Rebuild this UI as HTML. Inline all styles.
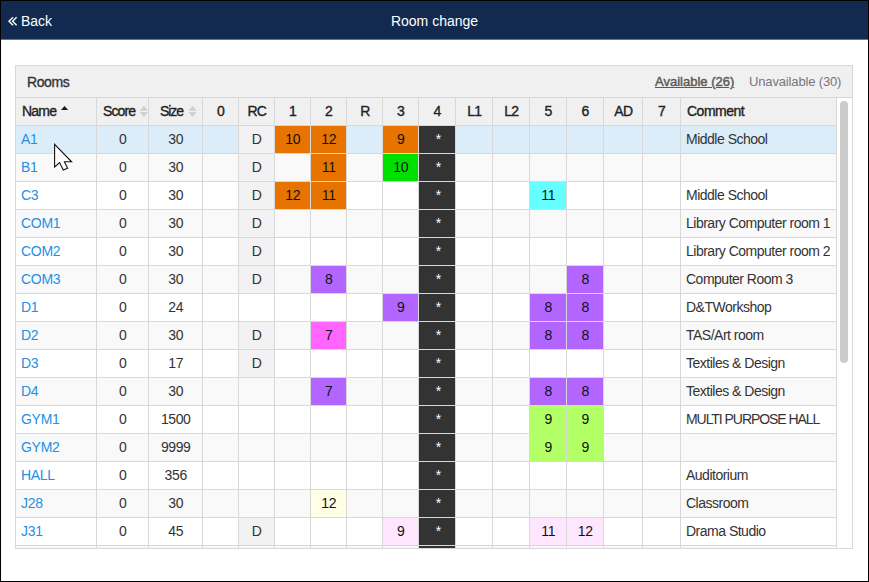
<!DOCTYPE html><html><head><meta charset="utf-8"><style>
*{margin:0;padding:0;box-sizing:border-box}
html,body{width:869px;height:582px;overflow:hidden;background:#fff;font-family:"Liberation Sans",sans-serif;font-size:13px;color:#333}
.a{position:absolute}
.t{position:absolute;white-space:nowrap;line-height:27px;height:27px;text-align:center}
.l{color:#2490e6;font-size:14px;letter-spacing:-0.3px}
.hd{color:#222;-webkit-text-stroke:0.35px #222;font-size:14px}
.n{font-size:14px;letter-spacing:-0.4px;text-indent:0.4px}
</style></head><body>
<div class="a" style="left:0;top:0;width:869px;height:582px;border:1px solid #000"></div>
<div class="a" style="left:1px;top:1px;width:867px;height:38px;background:#122a50;box-shadow:0 1px 0 rgba(0,0,0,.55)"></div>
<svg class="a" style="left:7px;top:16px" width="12" height="11"><path d="M6 1.2 L2 5.2 L6 9.2 M9.6 1.2 L5.6 5.2 L9.6 9.2" fill="none" stroke="#fff" stroke-width="1.4"/></svg>
<div class="a" style="left:21px;top:11px;color:#fff;font-size:14px;line-height:20px">Back</div>
<div class="a" style="left:0;top:11px;width:869px;text-align:center;color:#fff;font-size:14px;line-height:20px">Room change</div>

<div class="a" style="left:15px;top:65px;width:838px;height:484px;border:1px solid #d8d8d8;background:#fff"></div>
<div class="a" style="left:16px;top:66px;width:836px;height:32px;background:#f0f0f0;border-bottom:1px solid #d8d8d8"></div>
<div class="a" style="left:27px;top:72px;color:#333;-webkit-text-stroke:0.35px #333;line-height:20px;font-size:14px;letter-spacing:-0.4px">Rooms</div>
<div class="a" style="left:655px;top:72px;color:#5a5a5a;-webkit-text-stroke:0.45px #5a5a5a;line-height:20px;text-decoration:underline">Available (26)</div>
<div class="a" style="left:749px;top:72px;color:#777;line-height:20px;letter-spacing:-0.15px">Unavailable (30)</div>
<div class="a" style="left:16px;top:98px;width:820px;height:27px;background:#f0f0f0"></div>
<div class="a" style="left:16px;top:126px;width:820px;height:27px;background:#dcedfa"></div>
<div class="a" style="left:16px;top:154px;width:820px;height:27px;background:#f9f9f9"></div>
<div class="a" style="left:16px;top:182px;width:820px;height:27px;background:#ffffff"></div>
<div class="a" style="left:16px;top:210px;width:820px;height:27px;background:#f9f9f9"></div>
<div class="a" style="left:16px;top:238px;width:820px;height:27px;background:#ffffff"></div>
<div class="a" style="left:16px;top:266px;width:820px;height:27px;background:#f9f9f9"></div>
<div class="a" style="left:16px;top:294px;width:820px;height:27px;background:#ffffff"></div>
<div class="a" style="left:16px;top:322px;width:820px;height:27px;background:#f9f9f9"></div>
<div class="a" style="left:16px;top:350px;width:820px;height:27px;background:#ffffff"></div>
<div class="a" style="left:16px;top:378px;width:820px;height:27px;background:#f9f9f9"></div>
<div class="a" style="left:16px;top:406px;width:820px;height:27px;background:#ffffff"></div>
<div class="a" style="left:16px;top:434px;width:820px;height:27px;background:#f9f9f9"></div>
<div class="a" style="left:16px;top:462px;width:820px;height:27px;background:#ffffff"></div>
<div class="a" style="left:16px;top:490px;width:820px;height:27px;background:#f9f9f9"></div>
<div class="a" style="left:16px;top:518px;width:820px;height:27px;background:#ffffff"></div>
<div class="a" style="left:16px;top:546px;width:820px;height:2px;background:#f9f9f9"></div>
<div class="a" style="left:239px;top:126px;width:35px;height:27px;background:#f2f2f2"></div>
<div class="a" style="left:275px;top:126px;width:35px;height:27px;background:#e77400"></div>
<div class="a" style="left:311px;top:126px;width:35px;height:27px;background:#e77400"></div>
<div class="a" style="left:383px;top:126px;width:35px;height:27px;background:#e77400"></div>
<div class="a" style="left:419px;top:126px;width:36px;height:27px;background:#333"></div>
<div class="a" style="left:239px;top:154px;width:35px;height:27px;background:#f2f2f2"></div>
<div class="a" style="left:311px;top:154px;width:35px;height:27px;background:#e77400"></div>
<div class="a" style="left:383px;top:154px;width:35px;height:27px;background:#00e000"></div>
<div class="a" style="left:419px;top:154px;width:36px;height:27px;background:#333"></div>
<div class="a" style="left:239px;top:182px;width:35px;height:27px;background:#f2f2f2"></div>
<div class="a" style="left:275px;top:182px;width:35px;height:27px;background:#e77400"></div>
<div class="a" style="left:311px;top:182px;width:35px;height:27px;background:#e77400"></div>
<div class="a" style="left:530px;top:182px;width:36px;height:27px;background:#66ffff"></div>
<div class="a" style="left:419px;top:182px;width:36px;height:27px;background:#333"></div>
<div class="a" style="left:239px;top:210px;width:35px;height:27px;background:#f2f2f2"></div>
<div class="a" style="left:419px;top:210px;width:36px;height:27px;background:#333"></div>
<div class="a" style="left:239px;top:238px;width:35px;height:27px;background:#f2f2f2"></div>
<div class="a" style="left:419px;top:238px;width:36px;height:27px;background:#333"></div>
<div class="a" style="left:239px;top:266px;width:35px;height:27px;background:#f2f2f2"></div>
<div class="a" style="left:311px;top:266px;width:35px;height:27px;background:#b266ff"></div>
<div class="a" style="left:567px;top:266px;width:36px;height:27px;background:#b266ff"></div>
<div class="a" style="left:419px;top:266px;width:36px;height:27px;background:#333"></div>
<div class="a" style="left:383px;top:294px;width:35px;height:27px;background:#b266ff"></div>
<div class="a" style="left:530px;top:294px;width:36px;height:27px;background:#b266ff"></div>
<div class="a" style="left:567px;top:294px;width:36px;height:27px;background:#b266ff"></div>
<div class="a" style="left:419px;top:294px;width:36px;height:27px;background:#333"></div>
<div class="a" style="left:239px;top:322px;width:35px;height:27px;background:#f2f2f2"></div>
<div class="a" style="left:311px;top:322px;width:35px;height:27px;background:#ff66ff"></div>
<div class="a" style="left:530px;top:322px;width:36px;height:27px;background:#b266ff"></div>
<div class="a" style="left:567px;top:322px;width:36px;height:27px;background:#b266ff"></div>
<div class="a" style="left:419px;top:322px;width:36px;height:27px;background:#333"></div>
<div class="a" style="left:239px;top:350px;width:35px;height:27px;background:#f2f2f2"></div>
<div class="a" style="left:419px;top:350px;width:36px;height:27px;background:#333"></div>
<div class="a" style="left:311px;top:378px;width:35px;height:27px;background:#b266ff"></div>
<div class="a" style="left:530px;top:378px;width:36px;height:27px;background:#b266ff"></div>
<div class="a" style="left:567px;top:378px;width:36px;height:27px;background:#b266ff"></div>
<div class="a" style="left:419px;top:378px;width:36px;height:27px;background:#333"></div>
<div class="a" style="left:530px;top:406px;width:36px;height:27px;background:#b3ff66"></div>
<div class="a" style="left:567px;top:406px;width:36px;height:27px;background:#b3ff66"></div>
<div class="a" style="left:419px;top:406px;width:36px;height:27px;background:#333"></div>
<div class="a" style="left:530px;top:434px;width:36px;height:27px;background:#b3ff66"></div>
<div class="a" style="left:567px;top:434px;width:36px;height:27px;background:#b3ff66"></div>
<div class="a" style="left:419px;top:434px;width:36px;height:27px;background:#333"></div>
<div class="a" style="left:419px;top:462px;width:36px;height:27px;background:#333"></div>
<div class="a" style="left:311px;top:490px;width:35px;height:27px;background:#ffffe6"></div>
<div class="a" style="left:419px;top:490px;width:36px;height:27px;background:#333"></div>
<div class="a" style="left:239px;top:518px;width:35px;height:27px;background:#f2f2f2"></div>
<div class="a" style="left:383px;top:518px;width:35px;height:27px;background:#ffe6ff"></div>
<div class="a" style="left:530px;top:518px;width:36px;height:27px;background:#ffe6ff"></div>
<div class="a" style="left:567px;top:518px;width:36px;height:27px;background:#ffe6ff"></div>
<div class="a" style="left:419px;top:518px;width:36px;height:27px;background:#333"></div>
<div class="a" style="left:419px;top:546px;width:36px;height:2px;background:#333"></div>
<div class="a" style="left:16px;top:125px;width:820px;height:1px;background:#d8d8d8"></div>
<div class="a" style="left:16px;top:153px;width:820px;height:1px;background:#d8d8d8"></div>
<div class="a" style="left:16px;top:181px;width:820px;height:1px;background:#d8d8d8"></div>
<div class="a" style="left:16px;top:209px;width:820px;height:1px;background:#d8d8d8"></div>
<div class="a" style="left:16px;top:237px;width:820px;height:1px;background:#d8d8d8"></div>
<div class="a" style="left:16px;top:265px;width:820px;height:1px;background:#d8d8d8"></div>
<div class="a" style="left:16px;top:293px;width:820px;height:1px;background:#d8d8d8"></div>
<div class="a" style="left:16px;top:321px;width:820px;height:1px;background:#d8d8d8"></div>
<div class="a" style="left:16px;top:349px;width:820px;height:1px;background:#d8d8d8"></div>
<div class="a" style="left:16px;top:377px;width:820px;height:1px;background:#d8d8d8"></div>
<div class="a" style="left:16px;top:405px;width:820px;height:1px;background:#d8d8d8"></div>
<div class="a" style="left:16px;top:433px;width:820px;height:1px;background:#d8d8d8"></div>
<div class="a" style="left:16px;top:461px;width:820px;height:1px;background:#d8d8d8"></div>
<div class="a" style="left:16px;top:489px;width:820px;height:1px;background:#d8d8d8"></div>
<div class="a" style="left:16px;top:517px;width:820px;height:1px;background:#d8d8d8"></div>
<div class="a" style="left:16px;top:545px;width:820px;height:1px;background:#d8d8d8"></div>
<div class="a" style="left:96px;top:98px;width:1px;height:450px;background:#d8d8d8"></div>
<div class="a" style="left:148px;top:98px;width:1px;height:450px;background:#d8d8d8"></div>
<div class="a" style="left:202px;top:98px;width:1px;height:450px;background:#d8d8d8"></div>
<div class="a" style="left:238px;top:98px;width:1px;height:450px;background:#d8d8d8"></div>
<div class="a" style="left:274px;top:98px;width:1px;height:450px;background:#d8d8d8"></div>
<div class="a" style="left:310px;top:98px;width:1px;height:450px;background:#d8d8d8"></div>
<div class="a" style="left:346px;top:98px;width:1px;height:450px;background:#d8d8d8"></div>
<div class="a" style="left:382px;top:98px;width:1px;height:450px;background:#d8d8d8"></div>
<div class="a" style="left:418px;top:98px;width:1px;height:450px;background:#d8d8d8"></div>
<div class="a" style="left:455px;top:98px;width:1px;height:450px;background:#d8d8d8"></div>
<div class="a" style="left:492px;top:98px;width:1px;height:450px;background:#d8d8d8"></div>
<div class="a" style="left:529px;top:98px;width:1px;height:450px;background:#d8d8d8"></div>
<div class="a" style="left:566px;top:98px;width:1px;height:450px;background:#d8d8d8"></div>
<div class="a" style="left:603px;top:98px;width:1px;height:450px;background:#d8d8d8"></div>
<div class="a" style="left:642px;top:98px;width:1px;height:450px;background:#d8d8d8"></div>
<div class="a" style="left:680px;top:98px;width:1px;height:450px;background:#d8d8d8"></div>
<div class="a" style="left:836px;top:98px;width:1px;height:450px;background:#d8d8d8"></div>
<div class="t hd" style="left:22px;top:98px;text-align:left;letter-spacing:-0.8px">Name</div>
<svg class="a" style="left:61px;top:105px" width="9" height="6"><path d="M-0.2 5.1 L3.5 1 L7.2 5.1Z" fill="#1a1a1a"/></svg>
<div class="t hd" style="left:103px;top:98px;text-align:left;letter-spacing:-0.9px">Score</div>
<svg class="a" style="left:139px;top:105px" width="9" height="13"><path d="M0.6 5.7 L4.8 0.7 L9 5.7Z M0.6 6.9 L4.8 11.9 L9 6.9Z" fill="#d0d0d0"/></svg>
<div class="t hd" style="left:160px;top:98px;text-align:left;letter-spacing:-1.1px">Size</div>
<svg class="a" style="left:188px;top:105px" width="10" height="13"><path d="M0.3 5.7 L4.5 0.7 L8.7 5.7Z M0.3 6.9 L4.5 11.9 L8.7 6.9Z" fill="#d0d0d0"/></svg>
<div class="t hd n" style="left:203px;top:98px;width:35px;">0</div>
<div class="t hd" style="left:239px;top:98px;width:35px;letter-spacing:-0.7px;text-indent:0.7px">RC</div>
<div class="t hd n" style="left:275px;top:98px;width:35px;">1</div>
<div class="t hd n" style="left:311px;top:98px;width:35px;">2</div>
<div class="t hd" style="left:347px;top:98px;width:35px;letter-spacing:-0.7px;text-indent:0.7px">R</div>
<div class="t hd n" style="left:383px;top:98px;width:35px;">3</div>
<div class="t hd n" style="left:419px;top:98px;width:36px;">4</div>
<div class="t hd" style="left:456px;top:98px;width:36px;letter-spacing:-0.7px;text-indent:0.7px">L1</div>
<div class="t hd" style="left:493px;top:98px;width:36px;letter-spacing:-0.7px;text-indent:0.7px">L2</div>
<div class="t hd n" style="left:530px;top:98px;width:36px;">5</div>
<div class="t hd n" style="left:567px;top:98px;width:36px;">6</div>
<div class="t hd" style="left:604px;top:98px;width:38px;letter-spacing:-0.7px;text-indent:0.7px">AD</div>
<div class="t hd n" style="left:643px;top:98px;width:37px;">7</div>
<div class="t hd" style="left:687px;top:98px;text-align:left;letter-spacing:-0.5px">Comment</div>
<div class="t l" style="left:21px;top:126px;text-align:left">A1</div>
<div class="t n" style="left:97px;top:126px;width:51px;">0</div>
<div class="t n" style="left:149px;top:126px;width:53px;">30</div>
<div class="t n" style="left:239px;top:126px;width:35px;">D</div>
<div class="t n" style="left:275px;top:126px;width:35px;color:#111">10</div>
<div class="t n" style="left:311px;top:126px;width:35px;color:#111">12</div>
<div class="t n" style="left:383px;top:126px;width:35px;color:#111">9</div>
<div class="t n" style="left:420px;top:126px;width:36px;color:#fff">*</div>
<div class="t" style="left:686px;top:126px;text-align:left;font-size:14px;letter-spacing:-0.5px">Middle School</div>
<div class="t l" style="left:21px;top:154px;text-align:left">B1</div>
<div class="t n" style="left:97px;top:154px;width:51px;">0</div>
<div class="t n" style="left:149px;top:154px;width:53px;">30</div>
<div class="t n" style="left:239px;top:154px;width:35px;">D</div>
<div class="t n" style="left:311px;top:154px;width:35px;color:#111">11</div>
<div class="t n" style="left:383px;top:154px;width:35px;color:#111">10</div>
<div class="t n" style="left:420px;top:154px;width:36px;color:#fff">*</div>
<div class="t l" style="left:21px;top:182px;text-align:left">C3</div>
<div class="t n" style="left:97px;top:182px;width:51px;">0</div>
<div class="t n" style="left:149px;top:182px;width:53px;">30</div>
<div class="t n" style="left:239px;top:182px;width:35px;">D</div>
<div class="t n" style="left:275px;top:182px;width:35px;color:#111">12</div>
<div class="t n" style="left:311px;top:182px;width:35px;color:#111">11</div>
<div class="t n" style="left:530px;top:182px;width:36px;color:#111">11</div>
<div class="t n" style="left:420px;top:182px;width:36px;color:#fff">*</div>
<div class="t" style="left:686px;top:182px;text-align:left;font-size:14px;letter-spacing:-0.5px">Middle School</div>
<div class="t l" style="left:21px;top:210px;text-align:left">COM1</div>
<div class="t n" style="left:97px;top:210px;width:51px;">0</div>
<div class="t n" style="left:149px;top:210px;width:53px;">30</div>
<div class="t n" style="left:239px;top:210px;width:35px;">D</div>
<div class="t n" style="left:420px;top:210px;width:36px;color:#fff">*</div>
<div class="t" style="left:686px;top:210px;text-align:left;font-size:14px;letter-spacing:-0.5px">Library Computer room 1</div>
<div class="t l" style="left:21px;top:238px;text-align:left">COM2</div>
<div class="t n" style="left:97px;top:238px;width:51px;">0</div>
<div class="t n" style="left:149px;top:238px;width:53px;">30</div>
<div class="t n" style="left:239px;top:238px;width:35px;">D</div>
<div class="t n" style="left:420px;top:238px;width:36px;color:#fff">*</div>
<div class="t" style="left:686px;top:238px;text-align:left;font-size:14px;letter-spacing:-0.5px">Library Computer room 2</div>
<div class="t l" style="left:21px;top:266px;text-align:left">COM3</div>
<div class="t n" style="left:97px;top:266px;width:51px;">0</div>
<div class="t n" style="left:149px;top:266px;width:53px;">30</div>
<div class="t n" style="left:239px;top:266px;width:35px;">D</div>
<div class="t n" style="left:311px;top:266px;width:35px;color:#111">8</div>
<div class="t n" style="left:567px;top:266px;width:36px;color:#111">8</div>
<div class="t n" style="left:420px;top:266px;width:36px;color:#fff">*</div>
<div class="t" style="left:686px;top:266px;text-align:left;font-size:14px;letter-spacing:-0.5px">Computer Room 3</div>
<div class="t l" style="left:21px;top:294px;text-align:left">D1</div>
<div class="t n" style="left:97px;top:294px;width:51px;">0</div>
<div class="t n" style="left:149px;top:294px;width:53px;">24</div>
<div class="t n" style="left:383px;top:294px;width:35px;color:#111">9</div>
<div class="t n" style="left:530px;top:294px;width:36px;color:#111">8</div>
<div class="t n" style="left:567px;top:294px;width:36px;color:#111">8</div>
<div class="t n" style="left:420px;top:294px;width:36px;color:#fff">*</div>
<div class="t" style="left:686px;top:294px;text-align:left;font-size:14px;letter-spacing:-0.5px">D&amp;TWorkshop</div>
<div class="t l" style="left:21px;top:322px;text-align:left">D2</div>
<div class="t n" style="left:97px;top:322px;width:51px;">0</div>
<div class="t n" style="left:149px;top:322px;width:53px;">30</div>
<div class="t n" style="left:239px;top:322px;width:35px;">D</div>
<div class="t n" style="left:311px;top:322px;width:35px;color:#111">7</div>
<div class="t n" style="left:530px;top:322px;width:36px;color:#111">8</div>
<div class="t n" style="left:567px;top:322px;width:36px;color:#111">8</div>
<div class="t n" style="left:420px;top:322px;width:36px;color:#fff">*</div>
<div class="t" style="left:686px;top:322px;text-align:left;font-size:14px;letter-spacing:-0.5px">TAS/Art room</div>
<div class="t l" style="left:21px;top:350px;text-align:left">D3</div>
<div class="t n" style="left:97px;top:350px;width:51px;">0</div>
<div class="t n" style="left:149px;top:350px;width:53px;">17</div>
<div class="t n" style="left:239px;top:350px;width:35px;">D</div>
<div class="t n" style="left:420px;top:350px;width:36px;color:#fff">*</div>
<div class="t" style="left:686px;top:350px;text-align:left;font-size:14px;letter-spacing:-0.5px">Textiles &amp; Design</div>
<div class="t l" style="left:21px;top:378px;text-align:left">D4</div>
<div class="t n" style="left:97px;top:378px;width:51px;">0</div>
<div class="t n" style="left:149px;top:378px;width:53px;">30</div>
<div class="t n" style="left:311px;top:378px;width:35px;color:#111">7</div>
<div class="t n" style="left:530px;top:378px;width:36px;color:#111">8</div>
<div class="t n" style="left:567px;top:378px;width:36px;color:#111">8</div>
<div class="t n" style="left:420px;top:378px;width:36px;color:#fff">*</div>
<div class="t" style="left:686px;top:378px;text-align:left;font-size:14px;letter-spacing:-0.5px">Textiles &amp; Design</div>
<div class="t l" style="left:21px;top:406px;text-align:left">GYM1</div>
<div class="t n" style="left:97px;top:406px;width:51px;">0</div>
<div class="t n" style="left:149px;top:406px;width:53px;">1500</div>
<div class="t n" style="left:530px;top:406px;width:36px;color:#111">9</div>
<div class="t n" style="left:567px;top:406px;width:36px;color:#111">9</div>
<div class="t n" style="left:420px;top:406px;width:36px;color:#fff">*</div>
<div class="t" style="left:686px;top:406px;text-align:left;font-size:14px;letter-spacing:-1.05px">MULTI PURPOSE HALL</div>
<div class="t l" style="left:21px;top:434px;text-align:left">GYM2</div>
<div class="t n" style="left:97px;top:434px;width:51px;">0</div>
<div class="t n" style="left:149px;top:434px;width:53px;">9999</div>
<div class="t n" style="left:530px;top:434px;width:36px;color:#111">9</div>
<div class="t n" style="left:567px;top:434px;width:36px;color:#111">9</div>
<div class="t n" style="left:420px;top:434px;width:36px;color:#fff">*</div>
<div class="t l" style="left:21px;top:462px;text-align:left">HALL</div>
<div class="t n" style="left:97px;top:462px;width:51px;">0</div>
<div class="t n" style="left:149px;top:462px;width:53px;">356</div>
<div class="t n" style="left:420px;top:462px;width:36px;color:#fff">*</div>
<div class="t" style="left:686px;top:462px;text-align:left;font-size:14px;letter-spacing:-0.5px">Auditorium</div>
<div class="t l" style="left:21px;top:490px;text-align:left">J28</div>
<div class="t n" style="left:97px;top:490px;width:51px;">0</div>
<div class="t n" style="left:149px;top:490px;width:53px;">30</div>
<div class="t n" style="left:311px;top:490px;width:35px;color:#111">12</div>
<div class="t n" style="left:420px;top:490px;width:36px;color:#fff">*</div>
<div class="t" style="left:686px;top:490px;text-align:left;font-size:14px;letter-spacing:-0.5px">Classroom</div>
<div class="t l" style="left:21px;top:518px;text-align:left">J31</div>
<div class="t n" style="left:97px;top:518px;width:51px;">0</div>
<div class="t n" style="left:149px;top:518px;width:53px;">45</div>
<div class="t n" style="left:239px;top:518px;width:35px;">D</div>
<div class="t n" style="left:383px;top:518px;width:35px;color:#111">9</div>
<div class="t n" style="left:530px;top:518px;width:36px;color:#111">11</div>
<div class="t n" style="left:567px;top:518px;width:36px;color:#111">12</div>
<div class="t n" style="left:420px;top:518px;width:36px;color:#fff">*</div>
<div class="t" style="left:686px;top:518px;text-align:left;font-size:14px;letter-spacing:-0.5px">Drama Studio</div>
<div class="a" style="left:840px;top:101px;width:8px;height:262px;border-radius:4px;background:#cbcbcb"></div>
<svg class="a" style="left:53px;top:143px" width="22" height="30" viewBox="0 0 22 30"><path d="M1.6 1.4 L1.6 24 L6.6 19.6 L10.3 27 L14.6 25.2 L11.4 18.8 L18.6 18.8 Z" fill="#fff" stroke="#111" stroke-width="1.1" stroke-linejoin="miter"/></svg>
</body></html>
